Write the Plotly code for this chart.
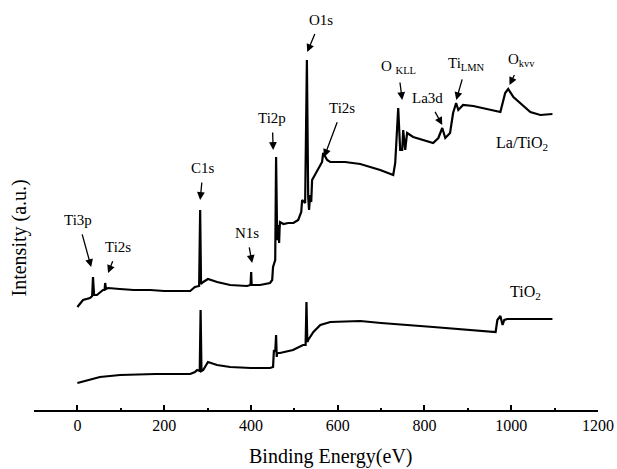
import plotly.graph_objects as go

# ---------------- data (binding energy in eV, intensity in a.u.) ----------------
energy_la = [0, 13, 29, 34, 36, 38.5, 45, 59, 62.7, 64, 66, 71, 98, 130, 168, 200, 230, 260, 271, 280.6,
             283, 285, 290, 301, 322, 352, 391, 399, 400.6, 401.7, 421, 444, 449, 451, 456,
             458, 460.5, 462, 463, 464, 465, 466, 467, 475, 486, 498, 509, 516, 518, 525, 529,
             532, 534, 536.6, 539, 541, 553, 564, 566.6, 575.7, 582.7, 600, 617, 652, 698, 728,
             732.6, 739.5, 744, 748.7, 751, 755.6, 760, 774, 797, 820, 832, 841, 848, 859,
             866, 873, 878, 889, 912.5, 952, 975, 986, 993, 1005, 1021, 1044, 1067, 1095]
intensity_la = [103, 110, 112, 114, 133, 115, 115, 120, 120, 127, 121, 122, 121, 120, 120, 119, 119, 119, 123, 124,
                200, 126, 128, 131, 128, 125, 124, 125, 138, 125, 125, 127, 130, 143, 150,
                253, 170, 175, 185, 168, 167, 180, 188, 186, 187, 187, 190, 198, 210, 207, 350,
                213, 200, 215, 208, 230, 240, 248, 257, 250, 248, 248, 248, 246, 240, 235,
                247, 302, 260, 260, 280, 260, 277, 273, 270, 267, 272, 282, 272, 277,
                297, 307, 300, 305, 304, 300, 298, 317, 321, 313, 307, 298, 295, 296]

energy_tio2 = [0, 52, 98.5, 180, 260, 271, 276, 282, 284, 286, 290, 301, 322, 352, 400, 444, 451,
               453, 456, 458, 459.5, 460.5, 467, 497, 520, 526, 528, 530, 532, 544, 560, 583,
               652, 700, 820, 952, 964, 968, 975, 980, 984, 991, 1040, 1095]
intensity_tio2 = [27, 33, 35, 36, 36, 38, 40, 39, 100, 39, 40, 48, 45, 43, 42, 42, 43,
                  60, 58, 75, 53, 57, 57, 60, 65, 65, 108, 68, 70, 78, 85, 88,
                  89, 87, 83, 78, 78, 90, 94, 85, 90, 91, 91, 91]

x_ticks = [0, 200, 400, 600, 800, 1000, 1200]

# peak labels: text, label position (eV, a.u.), arrow head position
peak_labels = ["Ti3p", "Ti2s", "C1s", "N1s", "Ti2p", "O1s", "Ti2s",
               "O <sub>KLL</sub>", "La3d", "Ti<sub>LMN</sub>", "O<sub>kvv</sub>"]
label_e = [2, 94, 290, 390, 449, 561, 611, 739, 807, 897, 1024]
label_i = [190, 163, 242, 177, 292, 390, 302, 343, 312, 346, 350]
head_e = [31.8, 70.8, 283, 402.8, 451.3, 529.8, 568.9, 748.7, 841, 873.3, 996]
head_i = [143, 137, 210, 147, 260, 358, 253, 310, 285, 310, 325]

series_names = ["La/TiO<sub>2</sub>", "TiO<sub>2</sub>"]
series_label_e = [1024, 1034]
series_label_i = [267, 118]

FONT = "Liberation Serif, Times New Roman, serif"

fig = go.Figure()
fig.add_trace(go.Scatter(x=energy_la, y=intensity_la, mode="lines",
                         line=dict(color="black", width=2.2), showlegend=False))
fig.add_trace(go.Scatter(x=energy_tio2, y=intensity_tio2, mode="lines",
                         line=dict(color="black", width=2.2), showlegend=False))

annotations = []
for t, lx, ly, hx, hy in zip(peak_labels, label_e, label_i, head_e, head_i):
    annotations.append(dict(x=hx, y=hy, ax=lx, ay=ly, xref="x", yref="y", axref="x", ayref="y",
                            text=t, showarrow=True, arrowhead=2, arrowsize=1.2, arrowwidth=1.3,
                            arrowcolor="black", startstandoff=5,
                            font=dict(family=FONT, size=15, color="black")))
for t, lx, ly in zip(series_names, series_label_e, series_label_i):
    annotations.append(dict(x=lx, y=ly, xref="x", yref="y", text=t, showarrow=False,
                            font=dict(family=FONT, size=16, color="black")))

W, H = 617, 469
L, R, T, B = 34, 19, 10, 59
pw, ph = W - L - R, H - T - B


def px_to_paper(sx, sy):
    return (sx - L) / pw, (H - B - sy) / ph


bx, by = px_to_paper(331, 456)
annotations.append(dict(x=bx, y=by, xref="paper", yref="paper", text="Binding Energy(eV)",
                        showarrow=False, xanchor="center", yanchor="middle",
                        font=dict(family=FONT, size=20, color="black")))
yx, yy = px_to_paper(19, 238.5)
annotations.append(dict(x=yx, y=yy, xref="paper", yref="paper", text="Intensity (a.u.)",
                        showarrow=False, textangle=-90, xanchor="center", yanchor="middle",
                        font=dict(family=FONT, size=20, color="black")))

fig.update_layout(
    width=W, height=H,
    margin=dict(l=L, r=R, t=T, b=B),
    paper_bgcolor="white", plot_bgcolor="white",
    font=dict(family=FONT, size=16, color="black"),
    annotations=annotations,
    xaxis=dict(range=[-100, 1200], tickvals=x_ticks, ticks="inside", ticklen=5, tickwidth=1.5,
               tickcolor="black", showline=True, linecolor="black", linewidth=1.5,
               showgrid=False, zeroline=False, automargin=False,
               minor=dict(dtick=100, tick0=0, ticks="inside", ticklen=2, tickwidth=1.5, tickcolor="black"),
               tickfont=dict(family=FONT, size=16, color="black")),
    yaxis=dict(range=[0, 400], visible=False, showgrid=False, zeroline=False, automargin=False),
)

fig.write_html("out.html", config={"displayModeBar": False},
               post_script="document.body.style.margin='0';document.body.style.overflow='hidden';")
